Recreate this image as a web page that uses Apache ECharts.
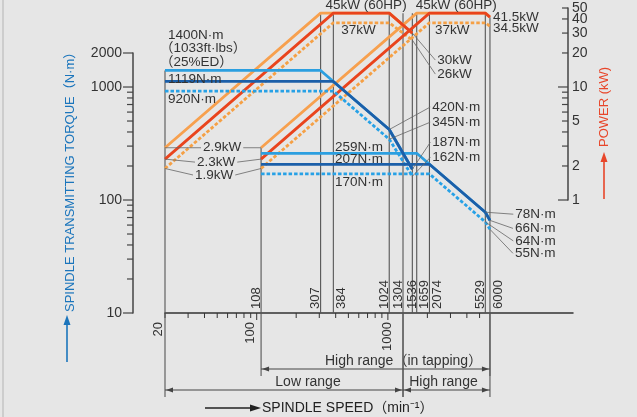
<!DOCTYPE html>
<html><head><meta charset="utf-8">
<script src="https://cdn.jsdelivr.net/npm/echarts@6/dist/echarts.min.js"></script>
<style>html,body{margin:0;padding:0;background:#e6e6e6}#c{width:637px;height:417px}</style>
</head><body><div id="c"></div>
<script>
// ---------------- data ----------------
// spindle speeds (min^-1) of the curve break points
const lowSpeeds25ED = [20, 307, 1024, 1536];
const lowSpeeds = [20, 384, 1024, 1536];
const highSpeeds25ED = [108, 1659, 5529, 6000];
const highSpeeds = [108, 2074, 5529, 6000];
// torque (N·m)
const lowTorque25ED = [1400, 1400, 420, 187];
const lowTorque30min = [1119, 1119, 420, 187];
const lowTorqueCont = [920, 920, 345, 162];
const highTorque25ED = [259, 259, 78, 66];
const highTorque30min = [207, 207, 78, 66];
const highTorqueCont = [170, 170, 64, 55];
// power (kW)
const lowPower25ED = [2.9, 45, 45, 30];
const lowPower30min = [2.3, 45, 45, 30];
const lowPowerCont = [1.9, 37, 37, 26];
const highPower25ED = [2.9, 45, 45, 41.5];
const highPower30min = [2.3, 45, 45, 41.5];
const highPowerCont = [1.9, 37, 37, 34.5];
// marked speeds (vertical reference lines) and how high each line reaches (torque-axis units)
const markedSpeeds = [20, 108, 307, 384, 1024, 1304, 1536, 1659, 2074, 5529, 6000];
const markedSpeedTops = [1400, 290, 4500, 4500, 4500, 4500, 4500, 4500, 4500, 4500, 4150];
// axis extents and ticks
const speedMin = 20, speedMax = 25770;
const torqueMin = 10, torqueMax = 5000;
const powerMin = 0.1, powerMax = 50;
const torqueAxisMax = 2000, powerAxisMin = 1;
const speedTicks = [20,30,40,50,60,70,80,90,100,200,300,400,500,600,700,800,900,1000,2000,3000,4000,5000];
const speedTickLabels = [20, 100, 1000];
const torqueTicks = [10,20,30,40,50,60,70,80,90,100,200,300,400,500,600,700,800,900,1000,2000];
const torqueTickLabels = [10, 100, 1000, 2000];
const powerTicks = [1,2,3,4,5,6,7,8,9,10,20,30,40,50];
const powerTickLabels = [1, 2, 5, 10, 20, 30, 40, 50];
// speed ranges
const speedRanges = [[108, 6000], [20, 1304], [1304, 6000]];
const speedRangeNames = ['High range（in tapping）', 'Low range', 'High range'];

// ---------------- layout / style (pixels) ----------------
const FONT = '"Liberation Sans", Arial, Helvetica, "Noto Sans CJK JP", sans-serif';
const TXT = '#333';
const NOTE_SIZE = 13.5;
const C = {lightOrange:'#f7a04e', red:'#e9441d', orangeDot:'#f5a045', lightBlue:'#2b9fe0', darkBlue:'#1b5fa9', blueDot:'#27a1e6', vline:'#555'};
const speedLabelSide = [null,'L','L','R','L','L','C','R','R','L','R'];
const speedTickLabelAlign = ['bottom','bottom','middle'];
const speedRangeRow = [56, 77, 77];
const speedRangeTextDx = [28, 24, -3];

const ctx = document.createElement('canvas').getContext('2d');
function measure(text, size) {
  ctx.font = size + 'px ' + FONT;
  return Math.max.apply(null, text.split('\n').map(t => ctx.measureText(t).width));
}
function txt(o) {
  return Object.assign({fontFamily: FONT, fill: TXT}, o, {
    textAlign: o.align, textVerticalAlign: o.verticalAlign
  });
}
function seg(x1, y1, x2, y2, stroke, w) {
  return {type:'line', shape:{x1, y1, x2, y2}, style:{stroke, lineWidth:w}};
}
function tri(tipX, tipY, dir, len, hw, fill) {
  let pts;
  if (dir === 'l') pts = [[tipX, tipY], [tipX + len, tipY - hw], [tipX + len, tipY + hw]];
  else pts = [[tipX, tipY], [tipX - len, tipY - hw], [tipX - len, tipY + hw]];
  return {type:'polygon', shape:{points:pts}, style:{fill}};
}

// ---------------- annotations ----------------
const torqueNotes = [
  {text: lowTorque25ED[0] + 'N·m', at:[lowSpeeds25ED[0], lowTorque25ED[0]]},
  {text: '（1033ft·lbs）', at:[lowSpeeds25ED[0], lowTorque25ED[0]]},
  {text: '（25%ED）', at:[lowSpeeds25ED[0], lowTorque25ED[0]]},
  {text: lowTorque30min[0] + 'N·m', at:[lowSpeeds[0], lowTorque30min[0]]},
  {text: lowTorqueCont[0] + 'N·m', at:[lowSpeeds[0], lowTorqueCont[0]]},
  {text: lowTorque30min[2] + 'N·m', at:[lowSpeeds[2], lowTorque30min[2]]},
  {text: lowTorqueCont[2] + 'N·m', at:[lowSpeeds[2], lowTorqueCont[2]]},
  {text: lowTorque30min[3] + 'N·m', at:[lowSpeeds[3], lowTorque30min[3]]},
  {text: lowTorqueCont[3] + 'N·m', at:[lowSpeeds[3], lowTorqueCont[3]]},
  {text: highTorque25ED[0] + 'N·m', at:[highSpeeds25ED[0], highTorque25ED[0]]},
  {text: highTorque30min[0] + 'N·m', at:[highSpeeds[0], highTorque30min[0]]},
  {text: highTorqueCont[0] + 'N·m', at:[highSpeeds[0], highTorqueCont[0]]},
  {text: highTorque30min[2] + 'N·m', at:[highSpeeds[2], highTorque30min[2]]},
  {text: highTorque30min[3] + 'N·m', at:[highSpeeds[3], highTorque30min[3]]},
  {text: highTorqueCont[2] + 'N·m', at:[highSpeeds[2], highTorqueCont[2]]},
  {text: highTorqueCont[3] + 'N·m', at:[highSpeeds[3], highTorqueCont[3]]}
];
const torqueNoteLayout = [[3,-35.5,0],[-5,-22,0],[-5,-8.5,0],[3,-2.5,0],[3,8.5,0],[43,-22.5,1],[43,-17,1],[20,-27,1],[20,-19,1],
  [74,-6,0],[74,-5,0],[74,8,0],[30,2,1],[25,8,1],[30,19,1],[25,24,1]];

const powerNotes = [
  {text:'45kW (60HP)', at:[lowSpeeds25ED[1], lowPower25ED[1]]},
  {text:'45kW (60HP)', at:[highSpeeds25ED[1], highPower25ED[1]]},
  {text: lowPowerCont[1] + 'kW', at:[lowSpeeds[1], lowPowerCont[1]]},
  {text: highPowerCont[1] + 'kW', at:[highSpeeds[1], highPowerCont[1]]},
  {text: highPower30min[3] + 'kW', at:[highSpeeds[3], highPower30min[3]]},
  {text: highPowerCont[3] + 'kW', at:[highSpeeds[3], highPowerCont[3]]},
  {text: lowPower30min[3] + 'kW', at:[lowSpeeds[3], lowPower30min[3]]},
  {text: lowPowerCont[3] + 'kW', at:[lowSpeeds[3], lowPowerCont[3]]},
  {text: lowPower25ED[0] + 'kW', at:[lowSpeeds25ED[0], lowPower25ED[0]], to:[highSpeeds25ED[0], highPower25ED[0]]},
  {text: lowPower30min[0] + 'kW', at:[lowSpeeds[0], lowPower30min[0]], to:[highSpeeds[0], highPower30min[0]]},
  {text: lowPowerCont[0] + 'kW', at:[lowSpeeds[0], lowPowerCont[0]], to:[highSpeeds[0], highPowerCont[0]]}
];
const powerNoteLayout = [[5,-8,0],[-1,-8,0],[8,8,0],[5.5,8,0],[3,0,0],[3,2,0],[25,27,1],[25,34,1],[38,0,0],[32,3,0],[30,6.5,0]];

function noteSeries(notes, layout, yAxisIndex) {
  return {
    type:'custom', xAxisIndex:0, yAxisIndex, z:6, silent:true, clip:false,
    data: notes.map(n => [n.at[0], n.at[1]]),
    renderItem(params, api) {
      const i = params.dataIndex, n = notes[i], L = layout[i];
      const p = api.coord([api.value(0), api.value(1)]);
      const tx = p[0] + L[0], ty = p[1] + L[1];
      const ch = [{type:'text', x:tx, y:ty, style: txt({text:n.text, fontSize:NOTE_SIZE, align:'left', verticalAlign:'middle'})}];
      if (L[2]) ch.push(seg(p[0], p[1], tx - 2, ty, '#666', 0.8));
      if (n.to) {
        const q = api.coord(n.to);
        const w = measure(n.text, NOTE_SIZE);
        ch.push(seg(p[0], p[1], tx - 2, ty, '#666', 0.8));
        ch.push(seg(tx + w + 2, ty, q[0], q[1], '#666', 0.8));
      }
      return {type:'group', children:ch};
    }
  };
}

function lineSeries(name, xs, ys, yAxisIndex, color, dotted, z) {
  return {
    type:'line', name, xAxisIndex:0, yAxisIndex, z, silent:true,
    data: xs.map((x, i) => [x, ys[i]]),
    showSymbol:false, symbol:'none',
    lineStyle:{color, width:2.8, type: dotted ? [3.5, 2] : 'solid', cap:'butt'}
  };
}

const option = {
  backgroundColor:'#e6e6e6',
  animation:false,
  grid:[
    {left:165, top:8, width:408, height:305, outerBoundsMode:'none'},
    {left:133, top:53, width:1, height:260, outerBoundsMode:'none'},
    {left:568, top:8, width:1, height:192, outerBoundsMode:'none'}
  ],
  xAxis:[
    {type:'log', gridIndex:0, min:speedMin, max:speedMax, axisLine:{show:true, onZero:false, lineStyle:{color:'#333', width:1.5}}, axisTick:{show:false}, axisLabel:{show:false}, splitLine:{show:false}},
    {type:'value', gridIndex:1, min:0, max:1, show:false},
    {type:'value', gridIndex:2, min:0, max:1, show:false}
  ],
  yAxis:[
    {type:'log', gridIndex:0, min:torqueMin, max:torqueMax, show:false},
    {type:'log', gridIndex:0, min:powerMin, max:powerMax, show:false},
    {type:'log', gridIndex:1, min:torqueMin, max:torqueAxisMax, axisLine:{show:true, lineStyle:{color:'#444', width:1.5}}, axisTick:{show:false}, axisLabel:{show:false}, splitLine:{show:false}},
    {type:'log', gridIndex:2, min:powerAxisMin, max:powerMax, position:'left', axisLine:{show:true, lineStyle:{color:'#444', width:1.5}}, axisTick:{show:false}, axisLabel:{show:false}, splitLine:{show:false}}
  ],
  series:[
    // vertical reference lines + speed labels
    {
      type:'custom', xAxisIndex:0, yAxisIndex:0, z:1, silent:true, clip:false,
      data: markedSpeeds.map((s, i) => [s, markedSpeedTops[i]]),
      renderItem(params, api) {
        const i = params.dataIndex, x = api.value(0);
        const p0 = api.coord([x, torqueMin]), p1 = api.coord([x, api.value(1)]);
        const ch = [seg(p0[0], p0[1], p1[0], p1[1], C.vline, 1.1)];
        const side = speedLabelSide[i];
        if (side) {
          ch.push({type:'text', x: p0[0] + (side === 'C' ? 0 : 1.5), y: p0[1] - 4, rotation: Math.PI / 2,
            style: txt({text:String(x), fontSize:13, align:'left', verticalAlign: side === 'L' ? 'bottom' : side === 'R' ? 'top' : 'middle'})});
        }
        return {type:'group', children:ch};
      }
    },
    // speed axis ticks & labels
    {
      type:'custom', xAxisIndex:0, yAxisIndex:0, z:2, silent:true, clip:false,
      encode:{x:0},
      data: speedTicks.map(v => [v]),
      renderItem(params, api) {
        const v = api.value(0);
        const p = api.coord([v, torqueMin]);
        const decade = (v === 100 || v === 1000);
        const ch = [seg(p[0], p[1], p[0], p[1] + (decade ? 7 : 5), '#333', 1)];
        const li = speedTickLabels.indexOf(v);
        if (li >= 0) ch.push({type:'text', x:p[0], y:p[1] + 9, rotation: Math.PI / 2,
          style: txt({text:String(v), fontSize:13, align:'right', verticalAlign: speedTickLabelAlign[li]})});
        return {type:'group', children:ch};
      }
    },
    // speed ranges below the axis
    {
      type:'custom', xAxisIndex:0, yAxisIndex:0, z:2, silent:true, clip:false,
      encode:{x:[0, 1]},
      data: speedRanges,
      renderItem(params, api) {
        const i = params.dataIndex;
        const a = api.coord([api.value(0), torqueMin]), b = api.coord([api.value(1), torqueMin]);
        const y = a[1] + speedRangeRow[i];
        const col = '#444';
        const ch = [
          seg(a[0], a[1], a[0], y + 7, C.vline, 1.1),
          seg(b[0], b[1], b[0], y + 7, C.vline, 1.1),
          seg(a[0], y, b[0], y, col, 1),
          tri(a[0] + 1, y, 'l', 7, 2.5, col),
          tri(b[0] - 1, y, 'r', 7, 2.5, col),
          {type:'text', x:(a[0] + b[0]) / 2 + speedRangeTextDx[i], y: y - 8,
            style: txt({text:speedRangeNames[i], fontSize:14, align:'center', verticalAlign:'middle'})}
        ];
        return {type:'group', children:ch};
      }
    },
    // torque axis ticks & labels
    {
      type:'custom', xAxisIndex:1, yAxisIndex:2, z:2, silent:true, clip:false,
      data: torqueTicks.map(v => [0, v]),
      renderItem(params, api) {
        const v = api.value(1), p = api.coord([0, v]);
        const lab = torqueTickLabels.indexOf(v) >= 0;
        const ch = [seg(p[0] - (lab ? 10 : 6), p[1], p[0], p[1], '#444', 1.2)];
        if (lab) ch.push({type:'text', x:p[0] - 11, y:p[1], style: txt({text:String(v), fontSize:14, align:'right', verticalAlign:'middle'})});
        return {type:'group', children:ch};
      }
    },
    // power axis ticks & labels
    {
      type:'custom', xAxisIndex:2, yAxisIndex:3, z:2, silent:true, clip:false,
      data: powerTicks.map(v => [0, v]),
      renderItem(params, api) {
        const v = api.value(1), p = api.coord([0, v]);
        const dec = (v === 1 || v === 10);
        const ch = [seg(p[0] - (dec ? 10 : 6), p[1], p[0], p[1], '#444', 1.2)];
        if (powerTickLabels.indexOf(v) >= 0) ch.push({type:'text', x:p[0] + 4, y:p[1], style: txt({text:String(v), fontSize:14, align:'left', verticalAlign:'middle'})});
        return {type:'group', children:ch};
      }
    },
    // power curves (kW)
    lineSeries('Low 25%ED power', lowSpeeds25ED, lowPower25ED, 1, C.lightOrange, false, 3),
    lineSeries('High 25%ED power', highSpeeds25ED, highPower25ED, 1, C.lightOrange, false, 3),
    lineSeries('Low cont. power', lowSpeeds, lowPowerCont, 1, C.orangeDot, true, 3),
    lineSeries('High cont. power', highSpeeds, highPowerCont, 1, C.orangeDot, true, 3),
    lineSeries('Low 30min power', lowSpeeds, lowPower30min, 1, C.red, false, 3),
    lineSeries('High 30min power', highSpeeds, highPower30min, 1, C.red, false, 3),
    // torque curves (N·m)
    lineSeries('Low 25%ED torque', lowSpeeds25ED, lowTorque25ED, 0, C.lightBlue, false, 4),
    lineSeries('High 25%ED torque', highSpeeds25ED, highTorque25ED, 0, C.lightBlue, false, 4),
    lineSeries('Low cont. torque', lowSpeeds, lowTorqueCont, 0, C.blueDot, true, 4),
    lineSeries('High cont. torque', highSpeeds, highTorqueCont, 0, C.blueDot, true, 4),
    lineSeries('Low 30min torque', lowSpeeds, lowTorque30min, 0, C.darkBlue, false, 4),
    lineSeries('High 30min torque', highSpeeds, highTorque30min, 0, C.darkBlue, false, 4),
    // annotations
    noteSeries(torqueNotes, torqueNoteLayout, 0),
    noteSeries(powerNotes, powerNoteLayout, 1)
  ],
  graphic:[
    {type:'line', shape:{x1:3, y1:0, x2:3, y2:417}, style:{stroke:'#c4c4c4', lineWidth:1.5}, silent:true},
    // torque title
    {type:'text', x:70, y:312, rotation:Math.PI / 2, silent:true,
      style: txt({text:'SPINDLE TRANSMITTING TORQUE（N·m）', fontSize:13, fill:'#1b75bc', align:'left', verticalAlign:'middle'})},
    {type:'line', shape:{x1:67, y1:362, x2:67, y2:322}, style:{stroke:'#1b75bc', lineWidth:1.6}, silent:true},
    {type:'polygon', shape:{points:[[67,315],[63.5,325],[70.5,325]]}, style:{fill:'#1b75bc'}, silent:true},
    // power title
    {type:'text', x:604, y:147, rotation:Math.PI / 2, silent:true,
      style: txt({text:'POWER (kW)', fontSize:13, fill:'#e8462a', align:'left', verticalAlign:'middle'})},
    {type:'line', shape:{x1:604, y1:199, x2:604, y2:159}, style:{stroke:'#e8462a', lineWidth:1.6}, silent:true},
    {type:'polygon', shape:{points:[[604,152],[600.5,162],[607.5,162]]}, style:{fill:'#e8462a'}, silent:true},
    // speed title
    {type:'text', x:262, y:408, silent:true,
      style: txt({text:'SPINDLE SPEED（min⁻¹）', fontSize:14, fill:'#222', align:'left', verticalAlign:'middle'})},
    {type:'line', shape:{x1:205, y1:408, x2:252, y2:408}, style:{stroke:'#222', lineWidth:1.6}, silent:true},
    {type:'polygon', shape:{points:[[261,408],[250,404.5],[250,411.5]]}, style:{fill:'#222'}, silent:true}
  ]
};

const chart = echarts.init(document.getElementById('c'), null, {renderer:'canvas'});
chart.setOption(option);
</script></body></html>
